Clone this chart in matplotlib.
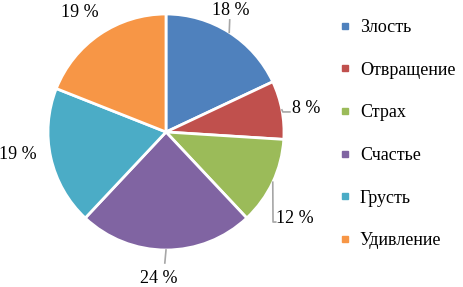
import matplotlib
matplotlib.use('Agg')
import matplotlib.pyplot as plt
from matplotlib.lines import Line2D
import numpy as np

plt.rcParams['font.family'] = ['Liberation Serif', 'DejaVu Serif']

categories = ['Злость', 'Отвращение', 'Страх', 'Счастье', 'Грусть', 'Удивление']
values = [18, 8, 12, 24, 19, 19]
colors = ['#4F81BD', '#C0504D', '#9BBB59', '#8064A2', '#4BACC6', '#F79646']

# label layout: (text x, text y, ha, leader line points or None), data units (radius = 1)
label_layout = [
    (0.55, 1.03, 'center', [(0.54, 0.95)]),
    (1.07, 0.20, 'left', [(0.99, 0.17), (1.05, 0.17)]),
    (0.93, -0.73, 'left', [(0.907, -0.763), (0.93, -0.763)]),
    (-0.06, -1.24, 'center', [(-0.01, -1.11)]),
    (-1.26, -0.19, 'center', None),
    (-0.73, 1.01, 'center', None),
]

fig = plt.figure(figsize=(4.63, 2.87), dpi=100)
ax = fig.add_axes([0, 0, 300 / 463, 1])

wedges, _ = ax.pie(values, colors=colors, startangle=90, counterclock=False,
                   wedgeprops={'edgecolor': 'white', 'linewidth': 2})

total = sum(values)
for w, v, (tx, ty, ha, line) in zip(wedges, values, label_layout):
    ax.text(tx, ty, f'{round(v / total * 100)} %', ha=ha, va='center', fontsize=13)
    if line:
        mid = np.deg2rad((w.theta1 + w.theta2) / 2)
        pts = [(np.cos(mid), np.sin(mid))] + line
        xs, ys = zip(*pts)
        ax.plot(xs, ys, color='#A6A6A6', linewidth=1.2)

ax.set_xlim(-166 / 118, 134 / 118)
ax.set_ylim(-155 / 118, 132 / 118)
ax.set_aspect('auto')
ax.axis('off')

handles = [Line2D([], [], linestyle='none', marker='s', markersize=4,
                  markerfacecolor=c, markeredgecolor=c) for c in colors]
fig.legend(handles, categories, loc='upper left', bbox_to_anchor=(330 / 463, 1 - 10 / 287),
           frameon=False, fontsize=13, handlelength=0.7, handletextpad=0.45,
           labelspacing=1.42, borderpad=0)

fig.savefig('out.png', dpi=100)
plt.close(fig)
